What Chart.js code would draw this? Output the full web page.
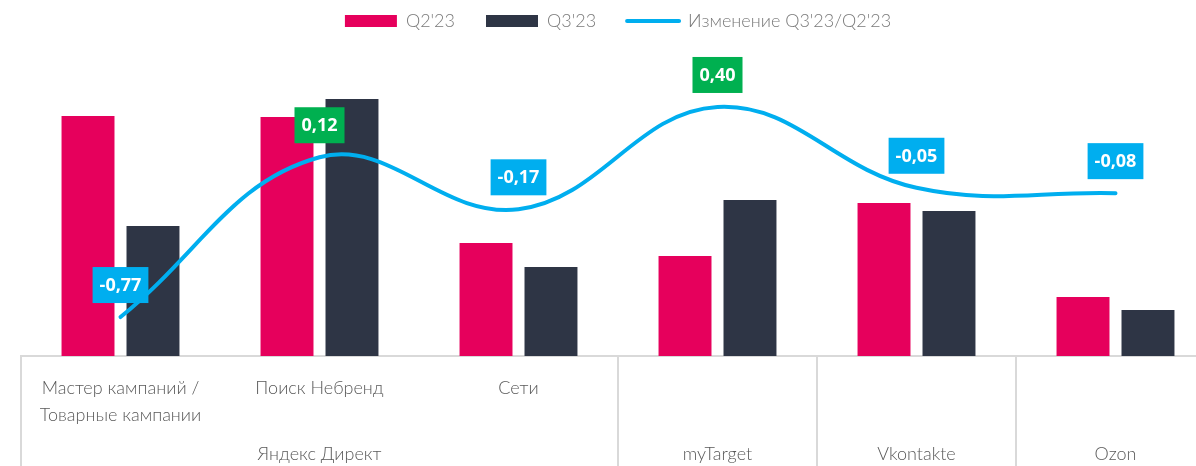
<!DOCTYPE html>
<html lang="ru">
<head>
    <meta charset="UTF-8">
    <title>Q3'23 vs Q2'23</title>
    <script src="https://cdn.jsdelivr.net/npm/chart.js@4"></script>
    <style>
        html, body { margin: 0; padding: 0; overflow: hidden; background: #fff; }
        #wrap { width: 1216px; height: 466px; position: relative; }
    </style>
</head>
<body>

<div id="wrap"><canvas id="changeChart"></canvas></div>

<script>
    // categories (first row of x axis) and groups (second row)
    const categories = [['Мастер кампаний /', 'Товарные кампании'], 'Поиск Небренд', 'Сети', '', '', ''];
    const groupLabels = ['Яндекс Директ', 'myTarget', 'Vkontakte', 'Ozon'];
    const groupFrom = [0, 3, 4, 5];
    const groupTo = [2, 3, 4, 5];

    // bar heights (relative units)
    const q2 = [240, 239, 113, 100, 153, 59];
    const q3 = [130, 257, 89, 156, 145, 46];
    // change Q3'23 / Q2'23
    const change = [-0.77, 0.12, -0.17, 0.40, -0.05, -0.08];

    const pink = '#E6005C';
    const navy = '#2E3545';
    const cyan = '#00AEEF';
    const green = '#00B050';

    Chart.defaults.font.family = 'Lato, "Open Sans", sans-serif';

    const fmt = v => v.toFixed(2).replace('.', ',');

    // boxes with values above the line points
    const valueBoxes = {
        id: 'valueBoxes',
        afterDatasetsDraw(chart) {
            const c = chart.ctx;
            const meta = chart.getDatasetMeta(2);
            c.save();
            c.font = 'bold 18px "Open Sans", sans-serif';
            c.textAlign = 'center';
            c.textBaseline = 'middle';
            meta.data.forEach((pt, i) => {
                const txt = fmt(change[i]);
                const w = c.measureText(txt).width + 14;
                const h = 36;
                const cy = pt.y - 32;
                c.fillStyle = change[i] > 0 ? green : cyan;
                c.fillRect(pt.x - w / 2, cy - h / 2, w, h);
                c.fillStyle = '#fff';
                c.fillText(txt, pt.x, cy + 1);
            });
            c.restore();
        }
    };

    // group row and separators under the x axis
    const groupAxis = {
        id: 'groupAxis',
        afterDraw(chart) {
            const c = chart.ctx;
            const x = chart.scales.x;
            const half = (x.getPixelForValue(1) - x.getPixelForValue(0)) / 2;
            const top = chart.chartArea.bottom;
            c.save();
            c.strokeStyle = '#D9D9D9';
            c.lineWidth = 2;
            groupLabels.forEach((g, i) => {
                const l = x.getPixelForValue(groupFrom[i]) - half;
                const r = x.getPixelForValue(groupTo[i]) + half;
                c.beginPath();
                c.moveTo(l, top);
                c.lineTo(l, chart.height);
                if (i === groupLabels.length - 1) {
                    c.moveTo(r, top);
                    c.lineTo(r, chart.height);
                }
                c.stroke();
                c.fillStyle = '#595959';
                c.font = '300 18px Lato, sans-serif';
                c.textAlign = 'center';
                c.textBaseline = 'middle';
                c.fillText(g, (l + r) / 2, top + 98);
            });
            c.restore();
        }
    };

    const ctx = document.getElementById('changeChart').getContext('2d');
    const chart = new Chart(ctx, {
        type: 'bar',
        data: {
            labels: categories,
            datasets: [{
                label: "Q2'23",
                data: q2,
                backgroundColor: pink,
                yAxisID: 'y'
            }, {
                label: "Q3'23",
                data: q3,
                backgroundColor: navy,
                yAxisID: 'y'
            }, {
                type: 'line',
                label: "Изменение Q3'23/Q2'23",
                data: change,
                borderColor: cyan,
                backgroundColor: cyan,
                borderWidth: 4,
                borderCapStyle: 'round',
                tension: 0.4,
                pointRadius: 0,
                yAxisID: 'y2',
                order: -1
            }]
        },
        options: {
            responsive: true,
            maintainAspectRatio: false,
            animation: false,
            layout: {
                padding: { top: -19, left: 21, right: 1, bottom: 0 }
            },
            datasets: {
                bar: {
                    categoryPercentage: 0.653,
                    barPercentage: 0.815
                }
            },
            scales: {
                x: {
                    grid: { display: false },
                    border: { display: true, color: '#D9D9D9', width: 2 },
                    ticks: {
                        autoSkip: false,
                        maxRotation: 0,
                        padding: 11,
                        color: '#595959',
                        font: { size: 18, weight: '300', lineHeight: 1.5 }
                    },
                    afterFit(scale) {
                        scale.height = 110;
                    }
                },
                y: {
                    display: false,
                    min: 0,
                    max: 316
                },
                y2: {
                    display: false,
                    min: -0.987,
                    max: 0.773
                }
            },
            plugins: {
                tooltip: { enabled: false },
                legend: {
                    position: 'top',
                    labels: {
                        usePointStyle: true,
                        pointStyleWidth: 52,
                        boxHeight: 12,
                        padding: 31,
                        color: '#7A7A7A',
                        font: { size: 18, weight: '300' },
                        generateLabels(chart) {
                            const items = Chart.defaults.plugins.legend.labels.generateLabels(chart);
                            items.sort((a, b) => a.datasetIndex - b.datasetIndex);
                            items.forEach(it => {
                                const ds = chart.data.datasets[it.datasetIndex];
                                if (ds.type === 'line') {
                                    it.pointStyle = 'line';
                                    it.lineWidth = 4;
                                    it.lineCap = 'round';
                                    it.strokeStyle = cyan;
                                } else {
                                    it.pointStyle = 'rect';
                                    it.lineWidth = 0;
                                    it.fillStyle = ds.backgroundColor;
                                }
                            });
                            return items;
                        }
                    }
                }
            }
        },
        plugins: [valueBoxes, groupAxis]
    });
</script>

</body>
</html>
